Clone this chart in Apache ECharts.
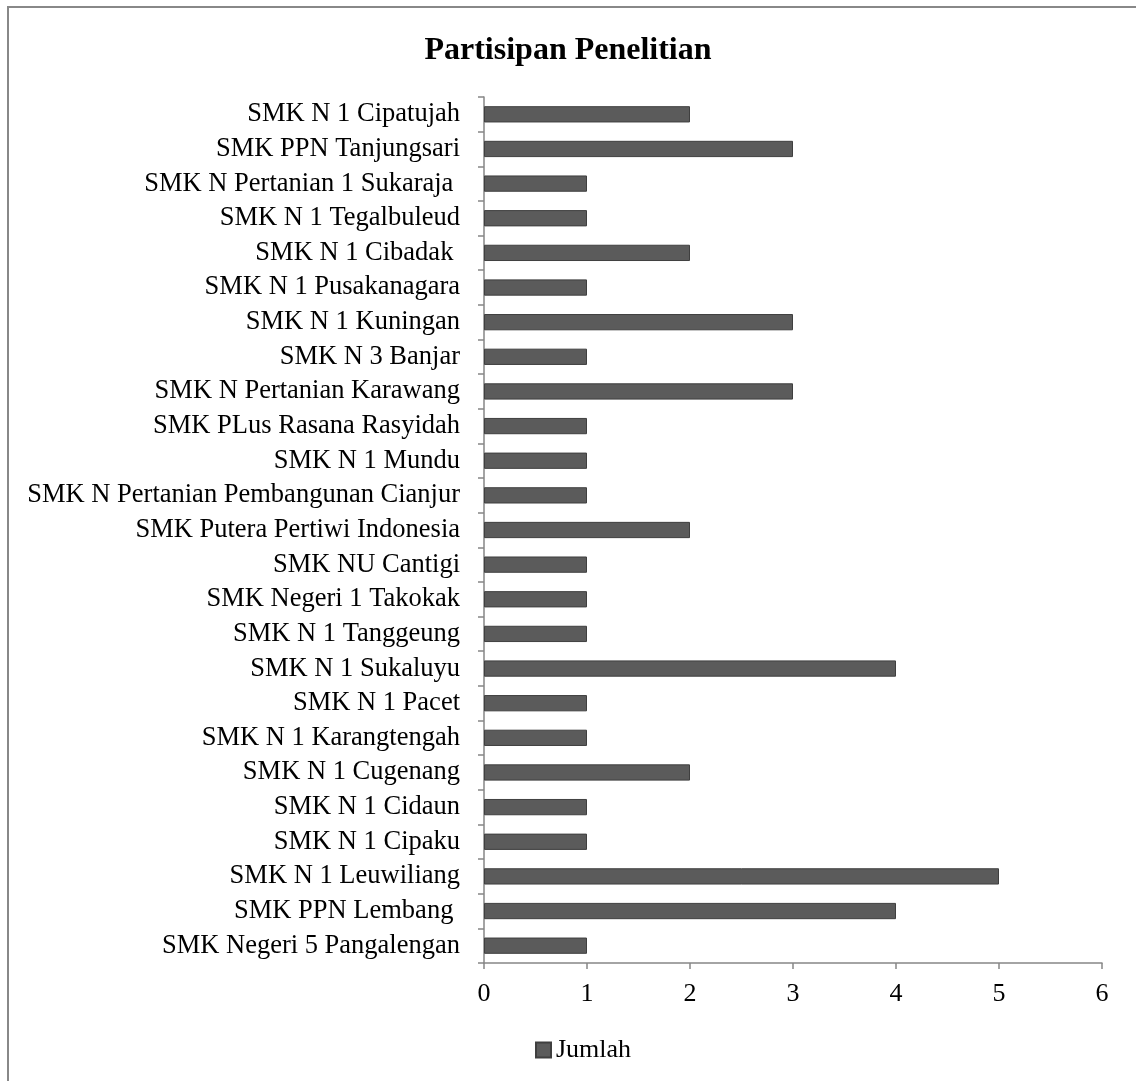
<!DOCTYPE html>
<html><head><meta charset="utf-8">
<script src="https://cdn.jsdelivr.net/npm/echarts@6/dist/echarts.min.js"></script>
<style>html,body{margin:0;padding:0;background:#fff}#c{width:1136px;height:1081px}</style>
</head><body><div id="c"></div>
<script>
const categories = [
  "SMK N 1 Cipatujah",
  "SMK PPN Tanjungsari",
  "SMK N Pertanian 1 Sukaraja ",
  "SMK N 1 Tegalbuleud",
  "SMK N 1 Cibadak ",
  "SMK N 1 Pusakanagara",
  "SMK N 1 Kuningan",
  "SMK N 3 Banjar",
  "SMK N Pertanian Karawang",
  "SMK PLus Rasana Rasyidah",
  "SMK N 1 Mundu",
  "SMK N Pertanian Pembangunan Cianjur",
  "SMK Putera Pertiwi Indonesia",
  "SMK NU Cantigi",
  "SMK Negeri 1 Takokak",
  "SMK N 1 Tanggeung",
  "SMK N 1 Sukaluyu",
  "SMK N 1 Pacet",
  "SMK N 1 Karangtengah",
  "SMK N 1 Cugenang",
  "SMK N 1 Cidaun",
  "SMK N 1 Cipaku",
  "SMK N 1 Leuwiliang",
  "SMK PPN Lembang ",
  "SMK Negeri 5 Pangalengan"
];
const jumlah = [2,3,1,1,2,1,3,1,3,1,1,1,2,1,1,1,4,1,1,2,1,1,5,4,1];
const xTicks = [0,1,2,3,4,5,6];

const chart = echarts.init(document.getElementById('c'));
const font = "'Liberation Serif','Times New Roman',serif";
chart.setOption({
  animation: false,
  backgroundColor: '#fff',
  textStyle: {fontFamily: font},
  graphic: [{
    type: 'rect', silent: true,
    shape: {x: 8, y: 7, width: 1140, height: 1090},
    style: {fill: 'none', stroke: '#888', lineWidth: 2}
  }],
  title: {
    text: 'Partisipan Penelitian', left: 'center', top: 30,
    textStyle: {fontFamily: font, fontWeight: 'bold', fontSize: 32, color: '#000'}
  },
  legend: {
    top: 1032, left: 530,
    icon: 'rect',
    itemWidth: 15, itemHeight: 15,
    textStyle: {fontFamily: font, fontSize: 26, color: '#000'},
    data: ['Jumlah']
  },
  grid: {left: 484, right: 34, top: 97, bottom: 118, containLabel: false},
  xAxis: {
    type: 'value', min: xTicks[0], max: xTicks[xTicks.length-1], interval: 1,
    axisLine: {show: true, lineStyle: {color: '#868686', width: 1.5}},
    axisTick: {show: true, length: 6, lineStyle: {color: '#868686', width: 1.5}},
    axisLabel: {fontFamily: font, fontSize: 26, color: '#000', margin: 18},
    splitLine: {show: false}
  },
  yAxis: {
    type: 'category', inverse: true, data: categories,
    axisLine: {show: true, lineStyle: {color: '#868686', width: 1.5}},
    axisTick: {show: true, length: 6, interval: 0, alignWithLabel: false, lineStyle: {color: '#868686', width: 1.5}},
    axisLabel: {interval: 0, hideOverlap: false, fontFamily: font, fontSize: 26.5, color: '#000', margin: 24}
  },
  series: [{
    name: 'Jumlah', type: 'bar', data: jumlah, barWidth: '47%',
    itemStyle: {color: '#5b5b5b', borderColor: '#3f3f3f', borderWidth: 1}
  }]
});
</script></body></html>
